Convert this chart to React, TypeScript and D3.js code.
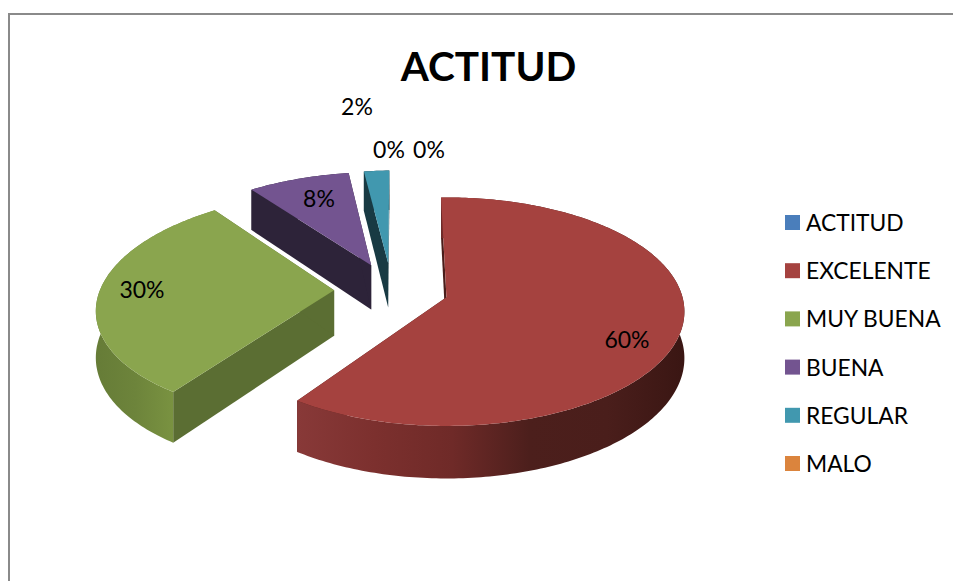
import React from "react";
import * as d3 from "d3";

const categories = ["ACTITUD", "EXCELENTE", "MUY BUENA", "BUENA", "REGULAR", "MALO"];
const shares = [0, 60, 30, 8, 2, 0];
const shareLabels = ["0%", "60%", "30%", "8%", "2%", "0%"];
const topColors = ["#4A7EBB", "#A5423F", "#8AA54E", "#735490", "#4198AF", "#DB843D"];
const wallColors = ["#27425f", "#4a1d1a", "#5B6E33", "#2D2339", "#183A43", "#7a4a20"];
const rimStops: string[][] = [
  ["#27425f", "#27425f"],
  ["#883938", "#7c302e", "#6f2a28", "#4c1f1c", "#4a1e1b", "#3a1613"],
  ["#667c37", "#6d843b", "#7a9341", "#738b3d"],
  ["#2D2339", "#2D2339"],
  ["#183A43", "#183A43"],
  ["#7a4a20", "#7a4a20"],
];

const W = 953, H = 581;
const cx = 391.5, cy = 289.5, K = 234, k = 110.5, f = 8, depth = 45.5, explode = 0.245, shear = 7;
const labelSpots: [number, number][] = [[429, 150], [627, 340], [142, 290], [319, 199], [357, 107], [389, 150]];

const project = (X: number, Z: number, drop = 0): [number, number] => {
  const s = f / (f - Z);
  return [cx + X * K * s - Z * shear * s, cy + Z * k * s + drop * s];
};

export default function App() {
  const arcs = d3.pie<number>().sort(null).value((d) => d)
    .startAngle((-1.5 * Math.PI) / 180)
    .endAngle(((360 - 1.5) * Math.PI) / 180)(shares);

  const line = d3.line();
  const legendY = d3.scalePoint<string>().domain(categories).range([223, 464]);

  const slices = arcs.map((a, i) => {
    const mid = (a.startAngle + a.endAngle) / 2;
    const ox = Math.sin(mid) * explode, oz = -Math.cos(mid) * explode;
    const P = (t: number, r: number, drop = 0) =>
      project(ox + Math.sin(t) * r, oz - Math.cos(t) * r, drop);
    const n = Math.max(2, Math.ceil((a.endAngle - a.startAngle) * 60));
    const ts = d3.range(n + 1).map((j) => a.startAngle + ((a.endAngle - a.startAngle) * j) / n);
    const outer = ts.map((t) => P(t, 1));
    const outerLow = ts.map((t) => P(t, 1, depth)).reverse();
    const apex = P(0, 0), apexLow = P(0, 0, depth);
    const wall = (t: number) => line([apex, P(t, 1), P(t, 1, depth), apexLow])! + "Z";
    return {
      i,
      top: line([apex, ...outer])! + "Z",
      rim: line([...outer, ...outerLow])! + "Z",
      walls: [wall(a.startAngle), wall(a.endAngle)],
      x0: Math.min(...outer.map((p) => p[0])),
      x1: Math.max(...outer.map((p) => p[0])),
    };
  });

  const paintOrder = [4, 3, 2, 1];

  return (
    <svg width={W} height={H} style={{ position: "absolute", left: 0, top: 0, background: "#fff" }}
      fontFamily="Lato, sans-serif">
      <defs>
        {slices.map((s) => (
          <linearGradient key={s.i} id={`rim${s.i}`} gradientUnits="userSpaceOnUse"
            x1={s.x0} x2={s.x1} y1={0} y2={0}>
            {rimStops[s.i].map((c, j) => (
              <stop key={j} offset={j / (rimStops[s.i].length - 1)} stopColor={c} />
            ))}
          </linearGradient>
        ))}
      </defs>
      <path d={`M9 581V14H953`} fill="none" stroke="#8a8a8a" strokeWidth={2} />
      <text x={488.5} y={81} textAnchor="middle" fontSize={40.5} fontWeight={700} fill="#000">ACTITUD</text>
      {paintOrder.map((i) => (
        <g key={i}>
          {slices[i].walls.map((d, j) => <path key={j} d={d} fill={wallColors[i]} />)}
          <path d={slices[i].rim} fill={`url(#rim${i})`} />
          <path d={slices[i].top} fill={topColors[i]} />
        </g>
      ))}
      {shareLabels.map((t, i) => (
        <text key={i} x={labelSpots[i][0]} y={labelSpots[i][1]} dy="0.35em" textAnchor="middle" fontSize={23} fill="#000">{t}</text>
      ))}
      {categories.map((c, i) => (
        <g key={c}>
          <rect x={785} y={legendY(c)! - 8} width={15} height={15} fill={topColors[i]} />
          <text x={806} y={legendY(c)!} dy="0.35em" fontSize={22.8} fill="#000">{c}</text>
        </g>
      ))}
    </svg>
  );
}
